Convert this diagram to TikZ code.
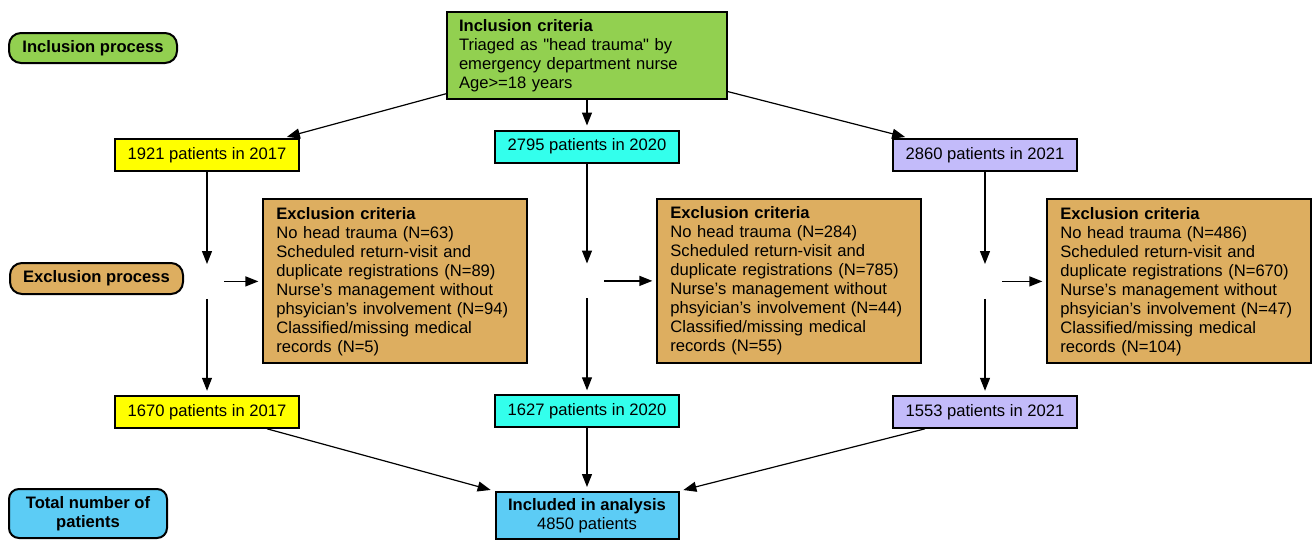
\documentclass[tikz,border=0pt]{standalone}
\usepackage{fontspec}
\setmainfont{Liberation Sans}
\usetikzlibrary{arrows.meta, positioning}

\definecolor{incgreen}{RGB}{146,208,80}
\definecolor{yr17}{RGB}{255,255,0}
\definecolor{yr20}{RGB}{51,255,236}
\definecolor{yr21}{RGB}{195,187,250}
\definecolor{extan}{RGB}{221,174,96}
\definecolor{totblue}{RGB}{92,204,245}

\begin{document}
\begin{tikzpicture}[
    x=0.5pt, y=-0.5pt,
    font=\fontsize{8.3}{9.5}\selectfont,
    year/.style={rectangle, draw, line width=1pt, minimum width=92pt, minimum height=16pt, inner sep=0pt},
    crit/.style={rectangle, draw, line width=1pt, align=left, inner ysep=0pt},
    excl/.style={crit, fill=extan, text width=119pt, inner xsep=6.5pt, minimum height=82pt},
    procpill/.style={rectangle, rounded corners=6pt, draw, line width=1pt, align=center, inner sep=0pt, font=\fontsize{8.3}{9.5}\selectfont\bfseries},
    hub/.style={rectangle, minimum width=17pt, minimum height=17pt, inner sep=0pt},
    arrow/.style={-{Triangle[length=6.5pt, width=5pt]}, line width=0.6pt, shorten >=2pt}
]
\useasboundingbox (0,0) rectangle (1312,541);

% Process labels
\node[procpill, fill=incgreen, minimum width=84pt, minimum height=15pt] (pinc) at (93,48) {Inclusion process};
\node[procpill, fill=extan, minimum width=86.5pt, minimum height=15.5pt] (pexc) at (96.5,278.5) {Exclusion process};
\node[procpill, fill=totblue, minimum width=79pt, minimum height=24.5pt, rounded corners=5pt] (ptot) at (88,513.5) {Total number of\\patients};

% Inclusion criteria
\node[crit, fill=incgreen, text width=128pt, inner xsep=6pt, minimum height=43.5pt] (inc) at (587,55.5)
  {\textbf{Inclusion criteria}\\Triaged as \textquotedbl head trauma\textquotedbl{} by\\emergency department nurse\\Age>=18 years};

% Patients per year
\node[year, fill=yr17] (y17a) at (207,155) {1921 patients in 2017};
\node[year, fill=yr20] (y20a) at (587,146.5) {2795 patients in 2020};
\node[year, fill=yr21] (y21a) at (985,155) {2860 patients in 2021};

% Exclusion split points
\node[hub, below=46pt of y17a] (j17) {};
\node[hub, below=50pt of y20a] (j20) {};
\node[hub, below=46pt of y21a] (j21) {};

% Exclusion criteria
\node[excl, right=19pt of j17] (ex17) {\textbf{Exclusion criteria}\\No head trauma (N=63)\\Scheduled return-visit and\\duplicate registrations (N=89)\\Nurse's management without\\phsyician's involvement (N=94)\\Classified/missing medical\\records (N=5)};
\node[excl, right=26pt of j20] (ex20) {\textbf{Exclusion criteria}\\No head trauma (N=284)\\Scheduled return-visit and\\duplicate registrations (N=785)\\Nurse's management without\\phsyician's involvement (N=44)\\Classified/missing medical\\records (N=55)};
\node[excl, right=22pt of j21] (ex21) {\textbf{Exclusion criteria}\\No head trauma (N=486)\\Scheduled return-visit and\\duplicate registrations (N=670)\\Nurse's management without\\phsyician's involvement (N=47)\\Classified/missing medical\\records (N=104)};

% Remaining patients
\node[year, fill=yr17, below=48pt of j17] (y17b) {1670 patients in 2017};
\node[year, fill=yr20, below=48pt of j20] (y20b) {1627 patients in 2020};
\node[year, fill=yr21, below=48pt of j21] (y21b) {1553 patients in 2021};

% Total
\node[crit, fill=totblue, align=center, minimum width=91.5pt, minimum height=23.5pt] (anal) at (587,515.5)
  {\textbf{Included in analysis}\\4850 patients};

% Arrows
\draw[arrow] (inc) -- ([xshift=38pt]y17a.north);
\draw[arrow] (inc) -- (y20a);
\draw[arrow] (inc) -- ([xshift=-38pt]y21a.north);
\foreach \yr in {17,20,21}{
  \draw[arrow, shorten >=0pt] (y\yr a) -- (j\yr);
  \draw[arrow] (j\yr) -- (y\yr b);
  \draw[arrow] (j\yr) -- (ex\yr);
}
\draw[arrow] ([xshift=30pt]y17b.south) -- (anal.north west);
\draw[arrow] (y20b) -- (anal);
\draw[arrow] ([xshift=-30pt]y21b.south) -- (anal.north east);
\end{tikzpicture}
\end{document}
